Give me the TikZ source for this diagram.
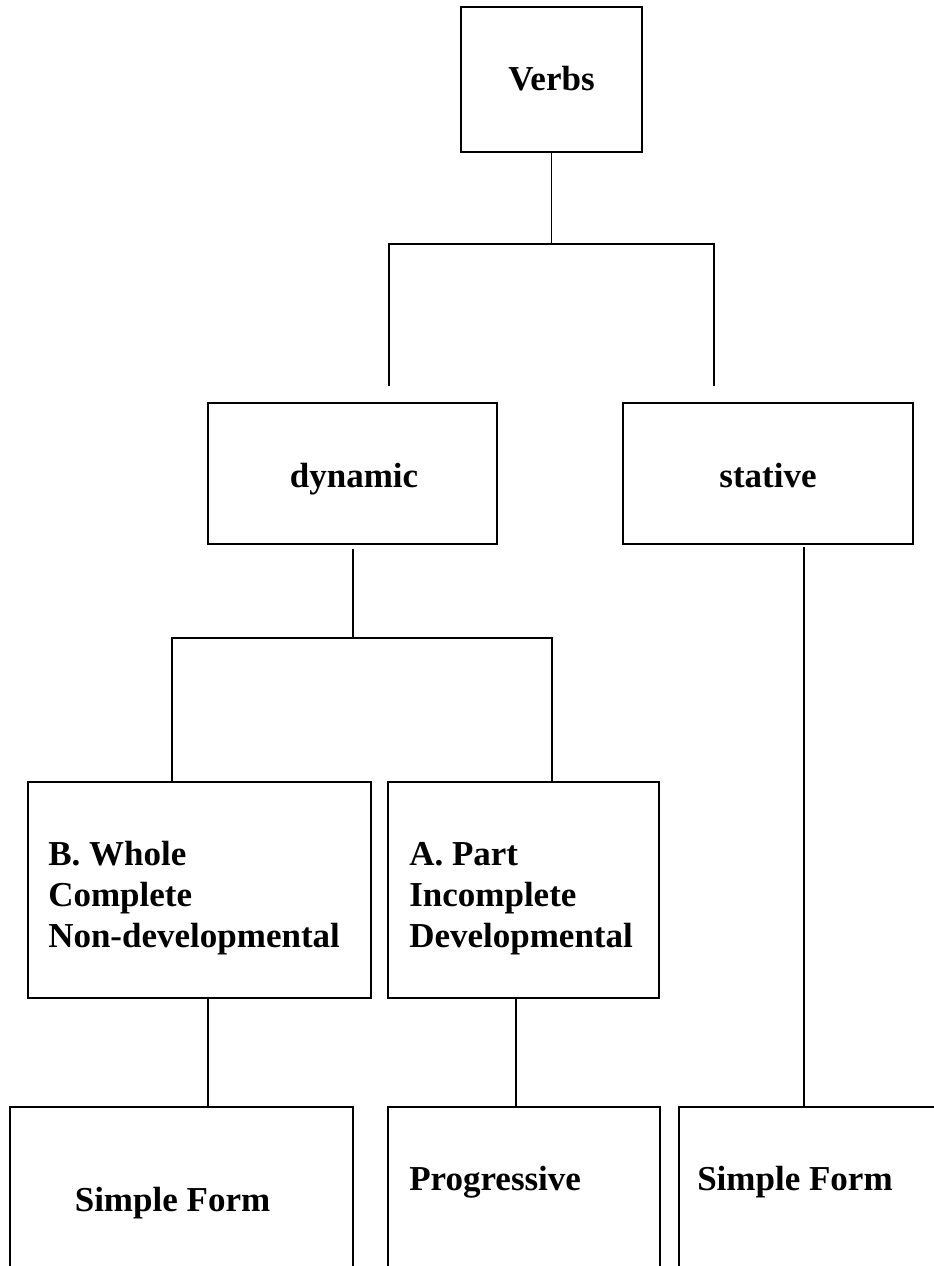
\documentclass[tikz,border=0pt]{standalone}
\usepackage{fontspec}
\setmainfont{Liberation Serif}
\usetikzlibrary{fit}
\begin{document}
\begin{tikzpicture}[x=0.75pt,y=-0.75pt,
  box/.style={draw, line width=1.2pt, rectangle, inner sep=0pt},
  lbl/.style={font=\fontsize{26.25}{30.75}\selectfont\bfseries, inner sep=0pt},
  link/.style={line width=1.1pt}]
\useasboundingbox (0,0) rectangle (934,1266);
\clip (0,0) rectangle (934,1266);

% boxes
\node[box, fit={(461,7) (642,152)}] (verbs) {};
\node[box, fit={(208,403) (497,544)}] (dynamic) {};
\node[box, fit={(623,403) (913,544)}] (stative) {};
\node[box, fit={(28,782) (371,998)}] (whole) {};
\node[box, fit={(388,782) (659,998)}] (part) {};
\node[box, fit={(10,1107) (353,1320)}] (simpleA) {};
\node[box, fit={(388,1107) (660,1320)}] (prog) {};
\node[box, fit={(679,1107) (980,1320)}] (simpleB) {};

% labels (multi-line labels are placed by the baseline of their last line)
\node[lbl, anchor=base] (tverbs) at (551.5,91) {Verbs};
\node[lbl, anchor=base] (tdyn) at (354,487) {dynamic};
\node[lbl, anchor=base] (tstat) at (768,487) {stative};
\node[lbl, anchor=base west, align=left] (twhole) at (48,947) {B. Whole\\Complete\\Non-developmental};
\node[lbl, anchor=base west, align=left] (tpart) at (409,947) {A. Part\\Incomplete\\Developmental};
\node[lbl, anchor=base] (tsimpleA) at (172.5,1211) {Simple Form};
\node[lbl, anchor=base west] (tprog) at (409,1190) {Progressive};
\node[lbl, anchor=base west] (tsimpleB) at (697,1190) {Simple Form};

% junction points of the brackets
\coordinate (vj) at (551.5,244);
\coordinate (dynEnd) at (389,386);
\coordinate (statEnd) at (714,386);
\coordinate (dj) at (353,638);
\coordinate (wj) at (172,638);
\coordinate (pj) at (552,638);
\coordinate (xa) at (208,0);
\coordinate (xb) at (516,0);
\coordinate (xc) at (804,0);

% connectors
\draw[link] (verbs.south) -- (vj);
\draw[link] (dynEnd) |- (vj) -| (statEnd);
\draw[link, shorten <=3pt] (dynamic.south -| dj) -- (dj);
\draw[link] (whole.north -| wj) -- (wj) -- (pj) -- (part.north -| pj);
\draw[link] (whole.south -| xa) -- (simpleA.north -| xa);
\draw[link] (part.south -| xb) -- (prog.north -| xb);
\draw[link, shorten <=2pt] (stative.south -| xc) -- (simpleB.north -| xc);
\end{tikzpicture}
\end{document}
